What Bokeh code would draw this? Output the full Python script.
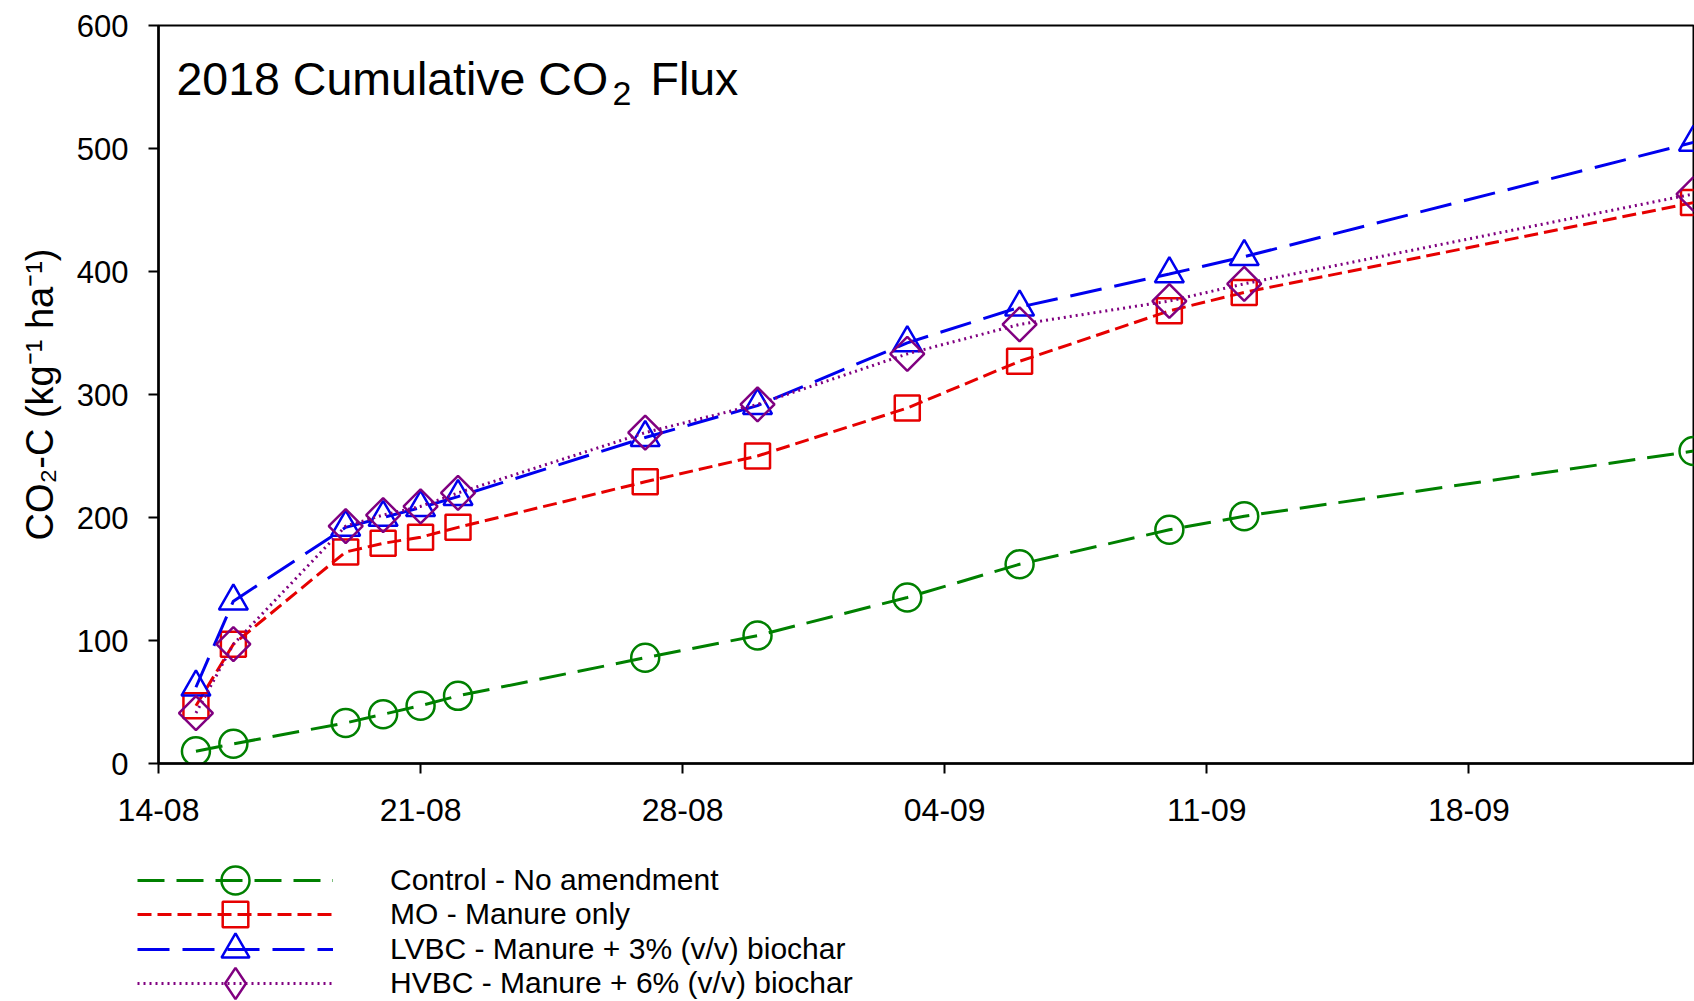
import numpy as np
import pandas as pd
from bokeh.plotting import figure
from bokeh.layouts import column
from bokeh.models import Range1d, FixedTicker, Legend, LegendItem, Label
from bokeh.embed import file_html
from bokeh.resources import INLINE

# ---- data ----
dates = ["2018-08-15", "2018-08-16", "2018-08-19", "2018-08-20", "2018-08-21", "2018-08-22",
         "2018-08-27", "2018-08-30", "2018-09-03", "2018-09-06", "2018-09-10", "2018-09-12",
         "2018-09-24"]
control = [10, 16, 33, 40, 47, 55, 86, 104, 135, 162, 190, 201, 254]
mo = [47, 97, 172, 179, 184, 192, 229, 250, 289, 327, 368, 383, 456]
lvbc = [62, 132, 192, 200, 208, 217, 265, 291, 342, 371, 398, 412, 505]
hvbc = [41, 97, 193, 202, 209, 220, 269, 292, 333, 357, 376, 390, 463]

series_labels = ["Control - No amendment", "MO - Manure only",
                 "LVBC - Manure + 3% (v/v) biochar", "HVBC - Manure + 6% (v/v) biochar"]
x_tick_dates = ["2018-08-14", "2018-08-21", "2018-08-28", "2018-09-04", "2018-09-11", "2018-09-18"]
x_tick_labels = ["14-08", "21-08", "28-08", "04-09", "11-09", "18-09"]
y_ticks = [0, 100, 200, 300, 400, 500, 600]
x_start, x_end = "2018-08-14", "2018-09-24"

FONT = "Liberation Sans"

x = pd.to_datetime(dates)
tick_ms = [int(v) for v in (pd.to_datetime(x_tick_dates).asi8 // 10**6)]

MAIN_H = 843
FRAME_LEFT = 158
p = figure(width=1694, height=MAIN_H, x_axis_type="datetime",
           x_range=Range1d(pd.Timestamp(x_start), pd.Timestamp(x_end)),
           y_range=Range1d(0, 600),
           output_backend="svg", toolbar_location=None,
           min_border_left=FRAME_LEFT, min_border_right=1, min_border_top=25,
           min_border_bottom=MAIN_H - 25 - 738)
p.grid.visible = False
p.outline_line_color = "black"
p.outline_line_width = 2
p.outline_line_alpha = 1

for ax in (p.xaxis[0], p.yaxis[0]):
    ax.axis_line_color = "black"
    ax.axis_line_width = 2.5
    ax.major_tick_line_color = "black"
    ax.major_tick_line_width = 2
    ax.major_tick_out = 10
    ax.major_tick_in = 0
    ax.minor_tick_out = 0
    ax.minor_tick_in = 0
    ax.major_label_text_color = "black"
    ax.major_label_text_font = FONT

p.xaxis.ticker = FixedTicker(ticks=tick_ms)
p.xaxis.major_label_overrides = {t: lab for t, lab in zip(tick_ms, x_tick_labels)}
p.xaxis.major_label_text_font_size = "32px"
p.xaxis.major_label_standoff = 25
p.yaxis.ticker = FixedTicker(ticks=y_ticks)
p.yaxis.major_label_text_font_size = "31px"
p.yaxis.major_label_standoff = 20
p.yaxis.axis_label = "CO\u2082-C (kg\u207b\u00b9 ha\u207b\u00b9)"
p.yaxis.axis_label_text_font = FONT
p.yaxis.axis_label_text_font_size = "38px"
p.yaxis.axis_label_text_font_style = "normal"
p.yaxis.axis_label_text_color = "black"
p.yaxis.axis_label_standoff = 13

styles = [
    dict(color="#008000", dash="27 12", marker="circle", size=28, angle=0.0, key="circle", gh=70),
    dict(color="#e60000", dash="14 6", marker="square", size=25, angle=0.0, key="square", gh=64),
    dict(color="#0000ee", dash="32 13", marker="triangle", size=29, angle=0.0, key="triangle", gh=70),
    dict(color="#800080", dash="2 4", marker="square", size=24, angle=np.pi / 4, key="diamond", gh=78),
]
series = [control, mo, lvbc, hvbc]

for vals, st in zip(series, styles):
    p.line(x, vals, line_color=st["color"], line_dash=st["dash"], line_width=3)
    p.scatter(x, vals, marker=st["marker"], size=st["size"], angle=st["angle"],
              line_color=st["color"], line_width=2.5, fill_alpha=0)

# title built from pieces (subscript 2)
p.add_layout(Label(x=18, y=685, x_units="screen", y_units="screen", text="2018 Cumulative CO",
                   text_font=FONT, text_font_size="46.5px", text_baseline="alphabetic", text_color="black"))
p.add_layout(Label(x=454, y=670, x_units="screen", y_units="screen", text="2",
                   text_font=FONT, text_font_size="34px", text_baseline="alphabetic", text_color="black"))
p.add_layout(Label(x=492, y=685, x_units="screen", y_units="screen", text="Flux",
                   text_font=FONT, text_font_size="46.5px", text_baseline="alphabetic", text_color="black"))

# ---- legend panel: hidden copies of the series provide the key glyphs ----
LEG_H = 1001 - MAIN_H
q = figure(width=1694, height=LEG_H, x_range=Range1d(0, 1), y_range=Range1d(0, 1),
           output_backend="svg", toolbar_location=None,
           x_axis_location=None, y_axis_location=None,
           min_border_left=0, min_border_right=0, min_border_top=0, min_border_bottom=0)
q.grid.visible = False
q.outline_line_alpha = 0

row_centres = [37, 71, 106, 140]  # measured down from the legend panel top
for vals, st, lab, rc in zip(series, styles, series_labels, row_centres):
    lr = q.line(x, vals, line_color=st["color"], line_dash=st["dash"], line_width=3, visible=False)
    sr = q.scatter(x, vals, marker=st["key"], size=st["size"],
                   line_color=st["color"], line_width=2.5, fill_alpha=0, visible=False)
    gh = st["gh"]
    lg = Legend(items=[LegendItem(label=lab, renderers=[lr, sr])],
                location=(137, LEG_H - (rc + gh / 2)), orientation="vertical",
                glyph_width=196, glyph_height=gh, spacing=0, padding=0, margin=0,
                label_standoff=57, label_text_font=FONT, label_text_font_size="30px",
                label_text_color="black", border_line_alpha=0, background_fill_alpha=0,
                inactive_fill_alpha=0)
    q.add_layout(lg)

open("out.html", "w").write(file_html(column(p, column(q, spacing=0), spacing=0), INLINE))
